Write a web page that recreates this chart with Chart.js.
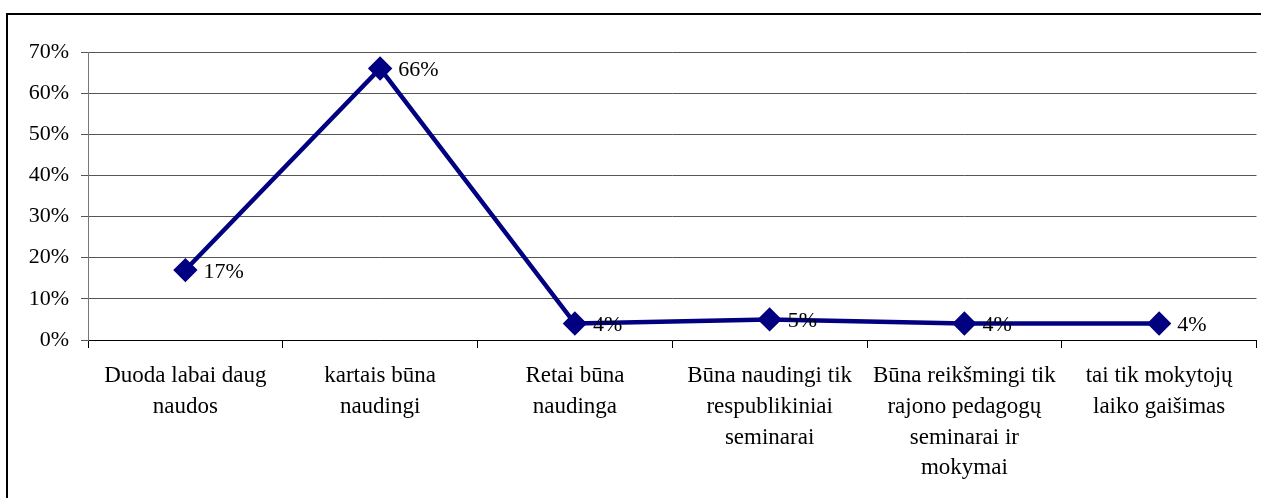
<!DOCTYPE html>
<html>
<head>
<meta charset="utf-8">
<script src="https://cdn.jsdelivr.net/npm/chart.js@4"></script>
<style>
  html, body { margin: 0; padding: 0; background: #fff; overflow: hidden; }
  #wrap { position: absolute; left: 0; top: 0; width: 1270px; height: 498px; }
</style>
</head>
<body>
<div id="wrap"><canvas id="lineChart"></canvas></div>
<script>
var categories = [
    ['Duoda labai daug', 'naudos'],
    ['kartais būna', 'naudingi'],
    ['Retai būna', 'naudinga'],
    ['Būna naudingi tik', 'respublikiniai', 'seminarai'],
    ['Būna reikšmingi tik', 'rajono pedagogų', 'seminarai ir', 'mokymai'],
    ['tai tik mokytojų', 'laiko gaišimas']
];
var values = [17, 66, 4, 5, 4, 4];
var yTicks = [0, 10, 20, 30, 40, 50, 60, 70];

var serif = '"Liberation Serif", "Times New Roman", serif';

// outer frame like the original chart object
var framePlugin = {
    id: 'frame',
    beforeDraw: function (chart) {
        var ctx = chart.ctx;
        ctx.save();
        ctx.strokeStyle = '#000';
        ctx.lineWidth = 2;
        ctx.strokeRect(7, 14, 1300, 600);
        ctx.restore();
    }
};

// value labels to the right of each point
var labelPlugin = {
    id: 'pointLabels',
    afterDatasetsDraw: function (chart) {
        var ctx = chart.ctx;
        var meta = chart.getDatasetMeta(0);
        ctx.save();
        ctx.font = '22px ' + serif;
        ctx.fillStyle = '#000';
        ctx.textBaseline = 'middle';
        ctx.textAlign = 'left';
        meta.data.forEach(function (pt, i) {
            ctx.fillText(values[i] + '%', pt.x + 18, pt.y + 2);
        });
        ctx.restore();
    }
};

new Chart(document.getElementById('lineChart'), {
    type: 'line',
    data: {
        labels: categories,
        datasets: [{
            data: values,
            borderColor: '#000080',
            backgroundColor: '#000080',
            borderWidth: 4.5,
            pointStyle: 'rectRot',
            pointRadius: 9,
            pointHoverRadius: 9,
            tension: 0
        }]
    },
    options: {
        responsive: true,
        maintainAspectRatio: false,
        animation: false,
        layout: { padding: { top: 52, right: 0, left: 0, bottom: 0 } },
        plugins: {
            legend: { display: false },
            tooltip: { enabled: false }
        },
        scales: {
            x: {
                offset: true,
                grid: {
                    offset: true,
                    drawOnChartArea: false,
                    color: '#000',
                    tickLength: 8
                },
                border: { color: '#000', width: 1 },
                ticks: {
                    color: '#000',
                    font: { family: serif, size: 23, lineHeight: 1.33 },
                    maxRotation: 0,
                    autoSkip: false,
                    padding: 13
                },
                afterFit: function (scale) { scale.height = 158; }
            },
            y: {
                min: 0,
                max: 70,
                afterBuildTicks: function (scale) {
                    scale.ticks = yTicks.map(function (v) { return { value: v }; });
                },
                grid: { color: '#555', tickLength: 7 },
                border: { color: '#777', width: 1 },
                ticks: {
                    color: '#000',
                    font: { family: serif, size: 22 },
                    padding: 12,
                    callback: function (v) { return v + '%'; }
                },
                afterFit: function (scale) { scale.width = 88; }
            }
        }
    },
    plugins: [framePlugin, labelPlugin]
});
</script>
</body>
</html>
